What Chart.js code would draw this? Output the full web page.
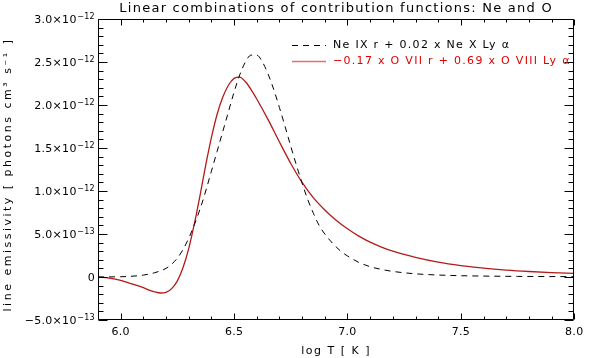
<!DOCTYPE html>
<html>
<head>
<meta charset="utf-8">
<script src="https://cdn.jsdelivr.net/npm/chart.js@4.4.0/dist/chart.umd.min.js"></script>
<style>
  html, body { margin: 0; padding: 0; background: #fff; }
  #wrap { width: 589px; height: 358px; }
</style>
</head>
<body>
<div id="wrap"><canvas id="chart"></canvas></div>
<script>
// emissivities are in units of 1e-12 photons cm^3 s^-1
const neLogT = [5.9, 6.0, 6.05, 6.1, 6.15, 6.2, 6.225, 6.25, 6.275, 6.3, 6.325, 6.35, 6.375, 6.4, 6.425, 6.45, 6.475, 6.5, 6.525, 6.55, 6.575, 6.6, 6.625, 6.65, 6.675, 6.7, 6.725, 6.75, 6.775, 6.8, 6.825, 6.85, 6.875, 6.9, 6.925, 6.95, 6.975, 7.0, 7.05, 7.1, 7.15, 7.2, 7.3, 7.4, 7.5, 7.75, 8.0];
const neEmis  = [0.0, 0.003, 0.009, 0.022, 0.05, 0.1, 0.15, 0.22, 0.32, 0.45, 0.61, 0.79, 1.0, 1.23, 1.46, 1.69, 1.92, 2.15, 2.35, 2.5, 2.58, 2.58, 2.5, 2.36, 2.18, 1.97, 1.75, 1.52, 1.3, 1.09, 0.9, 0.74, 0.6, 0.5, 0.42, 0.35, 0.29, 0.245, 0.17, 0.12, 0.088, 0.065, 0.037, 0.023, 0.015, 0.007, 0.004];

const oLogT = [5.9, 5.95, 6.0, 6.05, 6.1, 6.125, 6.15, 6.175, 6.2, 6.225, 6.25, 6.275, 6.3, 6.325, 6.35, 6.375, 6.4, 6.425, 6.45, 6.475, 6.5, 6.525, 6.55, 6.575, 6.6, 6.65, 6.7, 6.75, 6.8, 6.85, 6.9, 6.95, 7.0, 7.05, 7.1, 7.15, 7.2, 7.3, 7.4, 7.5, 7.6, 7.7, 7.8, 7.9, 8.0];
const oEmis  = [0.0, -0.012, -0.038, -0.08, -0.124, -0.152, -0.173, -0.186, -0.178, -0.135, -0.045, 0.11, 0.33, 0.62, 0.95, 1.3, 1.62, 1.89, 2.09, 2.23, 2.31, 2.325, 2.27, 2.18, 2.07, 1.83, 1.57, 1.32, 1.1, 0.92, 0.78, 0.66, 0.56, 0.475, 0.405, 0.348, 0.3, 0.228, 0.172, 0.132, 0.102, 0.08, 0.064, 0.052, 0.043];

const seriesLabels = ['Ne IX r + 0.02 x Ne X Ly α', '−0.17 x O VII r + 0.69 x O VIII Ly α'];

const xTicks = [6.0, 6.5, 7.0, 7.5, 8.0];
const xTickLabels = ['6.0', '6.5', '7.0', '7.5', '8.0'];
const yTicks = [-0.5, 0, 0.5, 1.0, 1.5, 2.0, 2.5, 3.0];
// y tick labels, written as mantissa x 10 and a raised exponent
const yTickBase = ['−5.0×10', '0', '5.0×10', '1.0×10', '1.5×10', '2.0×10', '2.5×10', '3.0×10'];
const yTickExp  = ['−13', '', '−13', '−12', '−12', '−12', '−12', '−12'];

const RED = '#b51a1a';
const RED_TEXT = '#e00000';
const RED_KEY = '#e86c6c';
const FONT = "'DejaVu Sans', sans-serif";

Chart.defaults.font.family = FONT;
Chart.defaults.color = '#000';

// the IDL fonts are spaced wider than DejaVu, so widen each text block by its own amount
function spaced(obj, method, px, dy = 0) {
    const orig = obj[method];
    if (orig._spaced) return;
    const wrapped = function (...args) {
        const ctx = this.ctx;
        ctx.save();
        ctx.letterSpacing = px;
        ctx.translate(0, dy);
        const r = orig.apply(this, args);
        ctx.restore();
        return r;
    };
    wrapped._spaced = true;
    obj[method] = wrapped;
}

const spacing = {
    id: 'spacing',
    afterLayout(chart) {
        spaced(chart.titleBlock, 'draw', '1.25px');
        spaced(chart.scales.x, 'drawTitle', '1.5px');
        spaced(chart.scales.y, 'drawTitle', '2.5px', 5);
        spaced(chart.scales.x, 'drawLabels', '0.3px');
    }
};

// box round the plot with inward ticks on all four sides, plus the y labels with superscripts
const idlAxes = {
    id: 'idlAxes',
    afterDatasetsDraw(chart) {
        const { ctx, chartArea: a, scales: { x, y } } = chart;
        const L = Math.round(a.left) + 0.5, R = Math.round(a.right) - 0.5;
        const T = Math.round(a.top) + 0.5, B = Math.round(a.bottom) - 0.5;
        ctx.save();
        ctx.strokeStyle = '#000';
        ctx.lineWidth = 1;
        ctx.beginPath();
        ctx.rect(L, T, R - L, B - T);
        for (let i = 59; i <= 80; i++) {
            const v = i / 10;
            const len = xTicks.some(t => Math.abs(t - v) < 1e-6) ? 6 : 3;
            const px = Math.round(x.getPixelForValue(v)) + 0.5;
            ctx.moveTo(px, B); ctx.lineTo(px, B - len);
            ctx.moveTo(px, T); ctx.lineTo(px, T + len);
        }
        for (let i = -5; i <= 30; i++) {
            const v = i / 10;
            const len = yTicks.some(t => Math.abs(t - v) < 1e-6) ? 9 : 5;
            const py = Math.round(y.getPixelForValue(v)) + 0.5;
            ctx.moveTo(L, py); ctx.lineTo(L + len, py);
            ctx.moveTo(R, py); ctx.lineTo(R - len, py);
        }
        ctx.stroke();

        ctx.fillStyle = '#000';
        ctx.textAlign = 'right';
        ctx.textBaseline = 'alphabetic';
        ctx.letterSpacing = '0.3px';
        const right = a.left - 3;
        yTicks.forEach((v, i) => {
            const py = y.getPixelForValue(v);
            let xr = right;
            if (yTickExp[i]) {
                ctx.font = '8px ' + FONT;
                ctx.fillText(yTickExp[i], xr, py - 0.5);
                xr -= ctx.measureText(yTickExp[i]).width + 0.5;
            }
            ctx.font = '11px ' + FONT;
            ctx.fillText(yTickBase[i], xr, py + 4);
        });
        ctx.restore();
    }
};

// legend in the upper right corner, as in the original plot
const keyBox = {
    id: 'keyBox',
    afterDraw(chart) {
        const { ctx } = chart;
        const keyColors = ['#000', RED_KEY];
        const textColors = ['#000', RED_TEXT];
        ctx.save();
        ctx.letterSpacing = '1.3px';
        ctx.font = '11px ' + FONT;
        ctx.textBaseline = 'middle';
        chart.data.datasets.forEach((ds, i) => {
            const yy = 45.5 + i * 16;
            ctx.strokeStyle = keyColors[i];
            ctx.lineWidth = i ? 1.6 : 1.2;
            ctx.setLineDash(ds.borderDash || []);
            ctx.beginPath();
            ctx.moveTo(292, yy);
            ctx.lineTo(326, yy);
            ctx.stroke();
            ctx.fillStyle = textColors[i];
            ctx.fillText(ds.label, 333, yy);
        });
        ctx.restore();
    }
};

new Chart(document.getElementById('chart'), {
    type: 'line',
    data: {
        datasets: [{
            label: seriesLabels[0],
            data: neLogT.map((t, i) => ({ x: t, y: neEmis[i] })),
            borderColor: '#000',
            borderWidth: 1,
            borderDash: [6, 5],
            pointRadius: 0,
            cubicInterpolationMode: 'monotone'
        }, {
            label: seriesLabels[1],
            data: oLogT.map((t, i) => ({ x: t, y: oEmis[i] })),
            borderColor: RED,
            borderWidth: 1.3,
            pointRadius: 0,
            cubicInterpolationMode: 'monotone'
        }]
    },
    options: {
        responsive: true,
        maintainAspectRatio: false,
        animation: false,
        layout: { padding: { left: 0, right: 11, top: 0, bottom: 0 } },
        plugins: {
            legend: { display: false },
            tooltip: { enabled: false },
            title: {
                display: true,
                fullSize: false,
                text: 'Linear combinations of contribution functions: Ne and O',
                font: { size: 13, weight: 'normal' },
                color: '#000',
                padding: { top: 1, bottom: 2.4 }
            }
        },
        scales: {
            x: {
                type: 'linear',
                min: 5.9,
                max: 8.0,
                grid: { display: false, drawTicks: false },
                border: { display: false },
                afterBuildTicks: s => { s.ticks = xTicks.map(v => ({ value: v })); },
                afterFit: s => { s.height = 38; },
                ticks: {
                    autoSkip: false,
                    maxRotation: 0,
                    padding: 6,
                    font: { size: 11 },
                    callback: (v, i) => xTickLabels[i]
                },
                title: {
                    display: true,
                    text: 'log T [ K ]',
                    font: { size: 11 },
                    padding: { top: 0, bottom: 0 }
                }
            },
            y: {
                min: -0.5,
                max: 3.0,
                grid: { display: false, drawTicks: false },
                border: { display: false },
                afterBuildTicks: s => { s.ticks = yTicks.map(v => ({ value: v })); },
                afterFit: s => { s.width = 98; },
                ticks: { display: false },
                title: {
                    display: true,
                    text: 'line emissivity [ photons cm³ s⁻¹ ]',
                    font: { size: 11 },
                    padding: { top: 2, bottom: 0 }
                }
            }
        }
    },
    plugins: [spacing, idlAxes, keyBox]
});
</script>
</body>
</html>
